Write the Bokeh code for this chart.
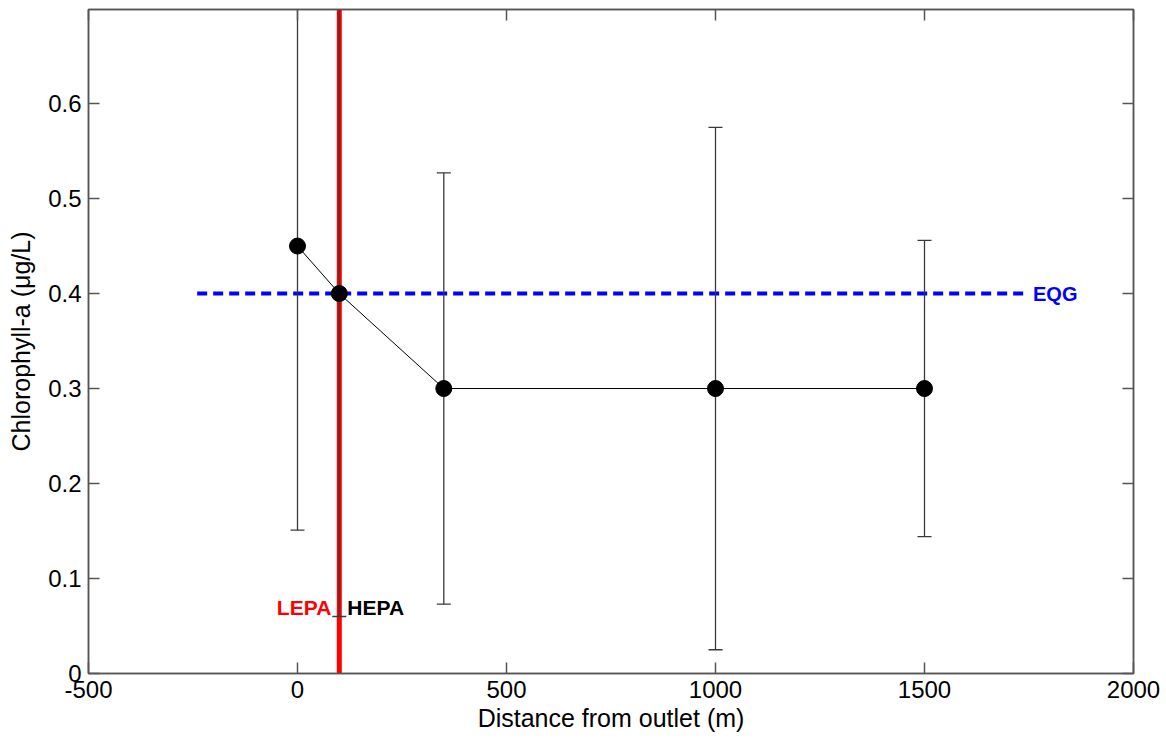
from bokeh.plotting import figure
from bokeh.models import (ColumnDataSource, FixedTicker, LinearAxis, Range1d, Span,
                          CustomJSTickFormatter, Label)
from bokeh.embed import file_html
from bokeh.resources import INLINE

# ---- data ----
distance = [0, 100, 350, 1000, 1500]
chl_mean = [0.45, 0.40, 0.30, 0.30, 0.30]
chl_lower = [0.151, 0.060, 0.073, 0.025, 0.144]
chl_upper = [0.749, 0.740, 0.527, 0.575, 0.456]

eqg_x = [-240, 1750]
eqg_level = 0.4
epa_boundary = 100
epa_label_y = 0.07

x_ticks = [-500, 0, 500, 1000, 1500, 2000]
y_ticks = [0, 0.1, 0.2, 0.3, 0.4, 0.5, 0.6]

FONT = "Liberation Sans"
FRAME = "#555555"

src = ColumnDataSource(dict(x=distance, y=chl_mean, lo=chl_lower, hi=chl_upper))

p = figure(width=1166, height=743, output_backend="svg", toolbar_location=None,
           x_range=Range1d(-500, 2000), y_range=Range1d(0, 0.699),
           min_border_left=88, min_border_right=33, min_border_top=9, min_border_bottom=70)
p.frame_width = 1045
p.frame_height = 664
p.xgrid.visible = False
p.ygrid.visible = False
p.outline_line_color = FRAME
p.outline_line_width = 1.5
p.background_fill_color = "white"
p.border_fill_color = "white"

# red boundary line
red = Span(location=epa_boundary, dimension="height", line_color="#ff0000", line_width=5,
           level="underlay")
p.add_layout(red)

# EQG dashed line
p.line(x=eqg_x, y=[eqg_level, eqg_level], line_color="#0000ff", line_width=4, line_dash="10 6")

# error bars
p.segment(x0="x", y0="lo", x1="x", y1="hi", source=src, line_color="#3a3a3a", line_width=1.3)
p.scatter(x="x", y="lo", source=src, marker="dash", size=14, line_color="#3a3a3a", line_width=1.3)
p.scatter(x="x", y="hi", source=src, marker="dash", size=14, line_color="#3a3a3a", line_width=1.3)

# mean line & markers
p.line(x="x", y="y", source=src, line_color="black", line_width=1)
p.scatter(x="x", y="y", source=src, marker="circle", size=16, fill_color="black", line_color="black")

# labels
p.add_layout(Label(x=eqg_x[1], y=eqg_level, text="EQG", x_offset=4, text_baseline="middle",
                   text_color="#0000ff", text_font=FONT, text_font_style="bold",
                   text_font_size="20px"))
p.add_layout(Label(x=epa_boundary, y=epa_label_y, text="LEPA", x_offset=-8, text_align="right",
                   text_baseline="middle", text_color="#ff0000", text_font=FONT,
                   text_font_style="bold", text_font_size="21px"))
p.add_layout(Label(x=epa_boundary, y=epa_label_y, text="HEPA", x_offset=8, text_align="left",
                   text_baseline="middle", text_color="black", text_font=FONT,
                   text_font_style="bold", text_font_size="21px"))

def style_axis(ax, ticks):
    ax.ticker = FixedTicker(ticks=ticks)
    ax.major_tick_in = 11
    ax.major_tick_out = 0
    ax.minor_tick_line_color = None
    ax.major_tick_line_color = FRAME
    ax.major_tick_line_width = 1.5
    ax.axis_line_color = FRAME
    ax.axis_line_width = 1.5
    ax.major_label_text_font = FONT
    ax.major_label_text_font_size = "24px"
    ax.major_label_text_color = "black"
    ax.major_label_standoff = 7
    ax.axis_label_text_font = FONT
    ax.axis_label_text_font_size = "25px"
    ax.axis_label_text_font_style = "normal"
    ax.axis_label_text_color = "black"

style_axis(p.xaxis[0], x_ticks)
style_axis(p.yaxis[0], y_ticks)
p.xaxis[0].formatter = CustomJSTickFormatter(code="return tick.toString()")
p.xaxis[0].axis_label = "Distance from outlet (m)"
p.xaxis[0].axis_label_standoff = 3
p.yaxis[0].axis_label = "Chlorophyll-a (\u03bcg/L)"
p.yaxis[0].axis_label_standoff = 10

blank = CustomJSTickFormatter(code="return ''")
top = LinearAxis()
right = LinearAxis()
for ax, t in ((top, x_ticks), (right, y_ticks)):
    style_axis(ax, t)
    ax.formatter = blank
    ax.major_label_standoff = 0
p.add_layout(top, "above")
p.add_layout(right, "right")

open("out.html", "w").write(file_html(p, INLINE))
